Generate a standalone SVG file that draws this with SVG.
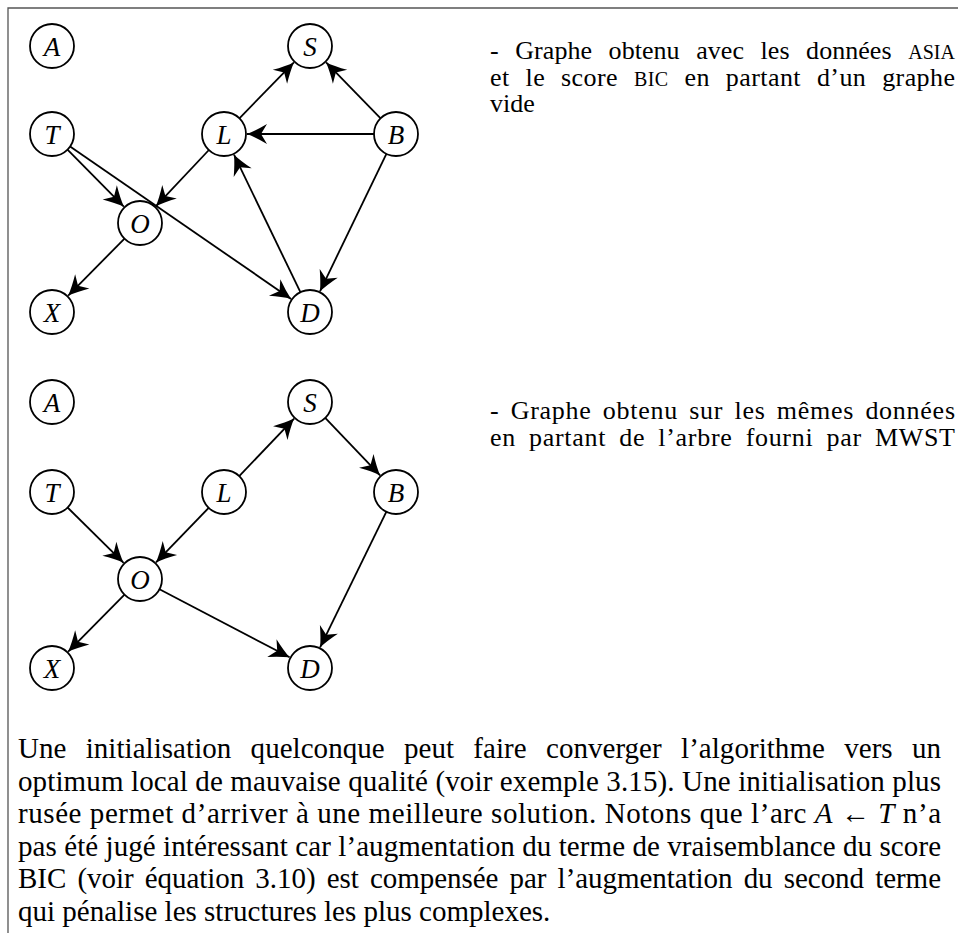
<svg xmlns="http://www.w3.org/2000/svg" width="958" height="933" viewBox="0 0 958 933">
<style>
.node circle{fill:#fff;stroke:#000;stroke-width:1.8}
.node text{font-family:'Liberation Serif','Times New Roman','DejaVu Serif',serif;font-style:italic;font-size:27px;text-anchor:middle;fill:#000}
.edges line{stroke:#000;stroke-width:1.8;marker-end:url(#ah)}
.txt{font-family:'Liberation Serif','Times New Roman','DejaVu Serif',serif;font-size:26px;fill:#000}
.para{font-family:'Liberation Serif','Times New Roman','DejaVu Serif',serif;font-size:29px;fill:#000}
.sc{font-size:20px}
.frame{stroke:#555;stroke-width:1.3;fill:none}
</style>
<defs>
<marker id="ah" viewBox="-22 -12 24 24" refX="0" refY="0" markerWidth="24" markerHeight="24" markerUnits="userSpaceOnUse" orient="auto">
<path d="M0,0 Q-9,-3.5 -20,-10 L-14,0 L-20,10 Q-9,3.5 0,0 Z" fill="#000"/>
</marker>
</defs>
<rect width="958" height="933" fill="#fff"/>
<path class="frame" d="M958,8 H8 V933"/>

<g class="edges" id="edges-top">
<line x1="239.4" y1="118.3" x2="293.9" y2="62.4"/>
<line x1="380.6" y1="118.3" x2="326.1" y2="62.4"/>
<line x1="374" y1="134" x2="247" y2="134"/>
<line x1="208.9" y1="150" x2="155.8" y2="206.3"/>
<line x1="67.5" y1="149.6" x2="123.8" y2="206.6"/>
<line x1="70.1" y1="146.5" x2="291.1" y2="298.9"/>
<line x1="124.5" y1="238.6" x2="68.2" y2="295.6"/>
<line x1="300.4" y1="292.2" x2="234" y2="154.7"/>
<line x1="386.4" y1="153.8" x2="320" y2="291.3"/>
</g>
<g class="edges" id="edges-bottom">
<line x1="239.2" y1="476.1" x2="294.1" y2="418.6"/>
<line x1="325.2" y1="417.9" x2="380.1" y2="475.4"/>
<line x1="67.6" y1="507.5" x2="123.6" y2="562.8"/>
<line x1="208.7" y1="507.8" x2="156" y2="562.4"/>
<line x1="124.5" y1="594.6" x2="68.2" y2="651.6"/>
<line x1="159.5" y1="589.2" x2="289.6" y2="657.3"/>
<line x1="386.3" y1="511.8" x2="320.1" y2="647.3"/>
</g>

<g class="node" id="n1-A"><circle cx="52" cy="46" r="22"/><text x="52" y="55.5">A</text></g>
<g class="node" id="n1-S"><circle cx="310" cy="46" r="22"/><text x="310" y="55.5">S</text></g>
<g class="node" id="n1-T"><circle cx="52" cy="134" r="22"/><text x="52" y="143.5">T</text></g>
<g class="node" id="n1-L"><circle cx="224" cy="134" r="22"/><text x="224" y="143.5">L</text></g>
<g class="node" id="n1-B"><circle cx="396" cy="134" r="22"/><text x="396" y="143.5">B</text></g>
<g class="node" id="n1-O"><circle cx="140" cy="223" r="22"/><text x="140" y="232.5">O</text></g>
<g class="node" id="n1-X"><circle cx="52" cy="312" r="22"/><text x="52" y="321.5">X</text></g>
<g class="node" id="n1-D"><circle cx="310" cy="312" r="22"/><text x="310" y="321.5">D</text></g>

<g class="node" id="n2-A"><circle cx="52" cy="402" r="22"/><text x="52" y="411.5">A</text></g>
<g class="node" id="n2-S"><circle cx="310" cy="402" r="22"/><text x="310" y="411.5">S</text></g>
<g class="node" id="n2-T"><circle cx="52" cy="492" r="22"/><text x="52" y="501.5">T</text></g>
<g class="node" id="n2-L"><circle cx="224" cy="492" r="22"/><text x="224" y="501.5">L</text></g>
<g class="node" id="n2-B"><circle cx="396" cy="492" r="22"/><text x="396" y="501.5">B</text></g>
<g class="node" id="n2-O"><circle cx="140" cy="579" r="22"/><text x="140" y="588.5">O</text></g>
<g class="node" id="n2-X"><circle cx="52" cy="668" r="22"/><text x="52" y="677.5">X</text></g>
<g class="node" id="n2-D"><circle cx="310" cy="668" r="22"/><text x="310" y="677.5">D</text></g>

<g id="caption-1">
<text class="txt" x="490" y="59" word-spacing="10" textLength="465" lengthAdjust="spacing">- Graphe obtenu avec les données <tspan class="sc">ASIA</tspan></text>
<text class="txt" x="490" y="85.5" word-spacing="9" textLength="465" lengthAdjust="spacing">et le score <tspan class="sc">BIC</tspan> en partant d’un graphe</text>
<text class="txt" x="490" y="112">vide</text>
</g>
<g id="caption-2">
<text class="txt" x="490" y="419" word-spacing="4" textLength="465" lengthAdjust="spacing">- Graphe obtenu sur les mêmes données</text>
<text class="txt" x="490" y="445.5" word-spacing="6" textLength="465" lengthAdjust="spacing">en partant de l’arbre fourni par MWST</text>
</g>
<g id="paragraph">
<text class="para" x="18" y="758" word-spacing="12" textLength="923" lengthAdjust="spacing">Une initialisation quelconque peut faire converger l’algorithme vers un</text>
<text class="para" x="18" y="790.5" textLength="923" lengthAdjust="spacing">optimum local de mauvaise qualité (voir exemple 3.15). Une initialisation plus</text>
<text class="para" x="18" y="823" textLength="923" lengthAdjust="spacing">rusée permet d’arriver à une meilleure solution. Notons que l’arc <tspan font-style="italic">A</tspan> ← <tspan font-style="italic">T</tspan> n’a</text>
<text class="para" x="18" y="855.5" textLength="923" lengthAdjust="spacing">pas été jugé intéressant car l’augmentation du terme de vraisemblance du score</text>
<text class="para" x="18" y="888" word-spacing="4" textLength="923" lengthAdjust="spacing">BIC (voir équation 3.10) est compensée par l’augmentation du second terme</text>
<text class="para" x="18" y="920.5">qui pénalise les structures les plus complexes.</text>
</g>
</svg>
